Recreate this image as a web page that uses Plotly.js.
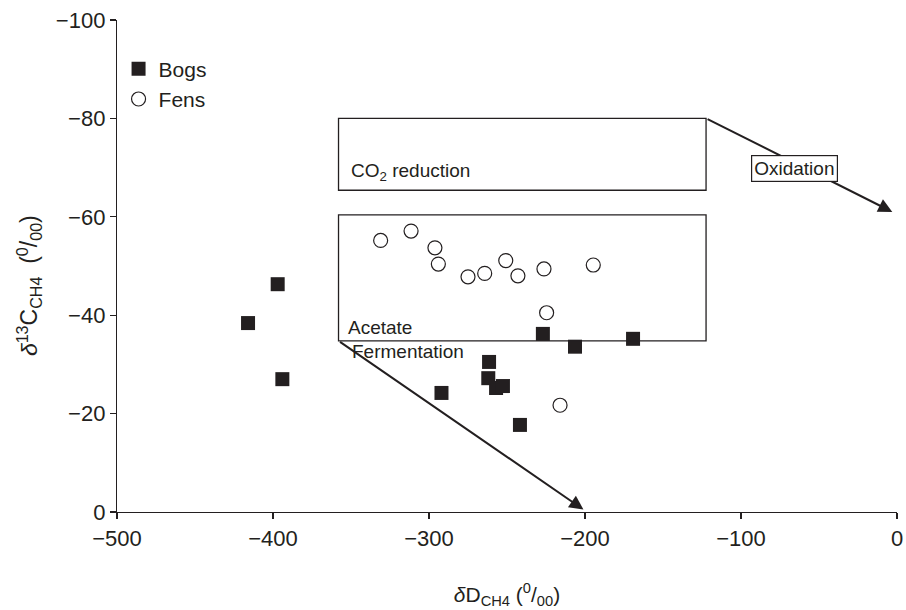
<!DOCTYPE html>
<html>
<head>
<meta charset="utf-8">
<script src="https://cdn.plot.ly/plotly-3.0.1.min.js"></script>
<style>html,body{margin:0;padding:0;background:#fff;}#chart{width:906px;height:610px;}</style>
</head>
<body>
<div id="chart"></div>
<script>
// Data
const bogsX = [-416, -397, -394, -292, -261.5, -262, -257, -252.6, -241.7, -227, -206.4, -169.2];
const bogsY = [-38.4, -46.3, -27.0, -24.2, -30.5, -27.2, -25.2, -25.6, -17.7, -36.2, -33.6, -35.2];
const fensX = [-331, -311.5, -296.2, -294, -275, -264.3, -250.8, -243, -226.3, -194.7, -224.6, -216];
const fensY = [-55.2, -57.1, -53.7, -50.4, -47.8, -48.5, -51.1, -48.0, -49.4, -50.2, -40.5, -21.7];
const xTicks = [-500, -400, -300, -200, -100, 0];
const yTicks = [0, -20, -40, -60, -80, -100];

const ink = '#231f20';
const fontFam = '"Liberation Sans", Arial, Helvetica, sans-serif';

const traces = [
  {x: bogsX, y: bogsY, name: 'Bogs', type: 'scatter', mode: 'markers',
   marker: {symbol: 'square', size: 14, color: ink, line: {width: 0}}},
  {x: fensX, y: fensY, name: 'Fens', type: 'scatter', mode: 'markers',
   marker: {symbol: 'circle-open', size: 14, color: ink, line: {width: 1.2, color: ink}}}
];

const layout = {
  width: 906, height: 610,
  margin: {l: 117, r: 9, t: 20, b: 98},
  paper_bgcolor: '#fff', plot_bgcolor: '#fff',
  font: {family: fontFam, color: ink, size: 21},
  showlegend: true,
  legend: {x: 0.002, y: 0.942, xanchor: 'left', yanchor: 'top', bgcolor: 'rgba(0,0,0,0)',
           font: {size: 21, color: ink, family: fontFam}, tracegroupgap: 0, itemwidth: 30},
  xaxis: {range: [-500, 0], tickvals: xTicks, showgrid: false, zeroline: false,
          showline: true, linecolor: ink, linewidth: 1.2, ticks: 'outside', ticklen: 6,
          tickcolor: ink, tickwidth: 1.2, tickfont: {size: 22, color: ink, family: fontFam},
          title: {text: '<i>δ</i>D<sub>CH4</sub> (<sup>0</sup>/<sub>00</sub>)', font: {size: 21, color: ink, family: fontFam}, standoff: 37}},
  yaxis: {range: [0, -100], tickvals: yTicks, showgrid: false, zeroline: false,
          showline: true, linecolor: ink, linewidth: 1.2, ticks: 'outside', ticklen: 6,
          tickcolor: ink, tickwidth: 1.2, tickfont: {size: 22, color: ink, family: fontFam}},
  shapes: [
    {type: 'rect', xref: 'x', yref: 'y', x0: -358, x1: -122.4, y0: -80, y1: -65.4,
     line: {color: ink, width: 1.3}},
    {type: 'rect', xref: 'x', yref: 'y', x0: -358, x1: -122.4, y0: -60.4, y1: -34.8,
     line: {color: ink, width: 1.3}}
  ],
  annotations: [
    {x: -0.136, y: 0.461, xref: 'paper', yref: 'paper', textangle: -90, showarrow: false,
     text: '<i>δ</i><sup>13</sup>C<sub>CH4</sub>  (<sup>0</sup>/<sub>00</sub>)',
     font: {size: 23, color: ink, family: fontFam}},
    {x: -3, y: -61, ax: -122.4, ay: -80, xref: 'x', yref: 'y', axref: 'x', ayref: 'y',
     text: '', showarrow: true, arrowhead: 2, arrowsize: 1.4, arrowwidth: 2, arrowcolor: ink},
    {x: -201, y: -0.5, ax: -358, ay: -34.8, xref: 'x', yref: 'y', axref: 'x', ayref: 'y',
     text: '', showarrow: true, arrowhead: 2, arrowsize: 1.4, arrowwidth: 2, arrowcolor: ink},
    {x: -65.4, y: -69.9, xref: 'x', yref: 'y', text: 'Oxidation', showarrow: false,
     bgcolor: '#fff', bordercolor: ink, borderwidth: 1.2, borderpad: 2,
     font: {size: 19, color: ink, family: fontFam}},
    {x: -351, y: -69.1, xref: 'x', yref: 'y', text: 'CO<sub>2</sub> reduction', showarrow: false,
     xanchor: 'left', font: {size: 19, color: ink, family: fontFam}},
    {x: -353, y: -37.6, xref: 'x', yref: 'y', text: 'Acetate', showarrow: false,
     xanchor: 'left', font: {size: 19, color: ink, family: fontFam}},
    {x: -350.6, y: -32.7, xref: 'x', yref: 'y', text: 'Fermentation', showarrow: false,
     xanchor: 'left', font: {size: 19, color: ink, family: fontFam}}
  ]
};

Plotly.newPlot('chart', traces, layout, {displayModeBar: false, staticPlot: true});
</script>
</body>
</html>
